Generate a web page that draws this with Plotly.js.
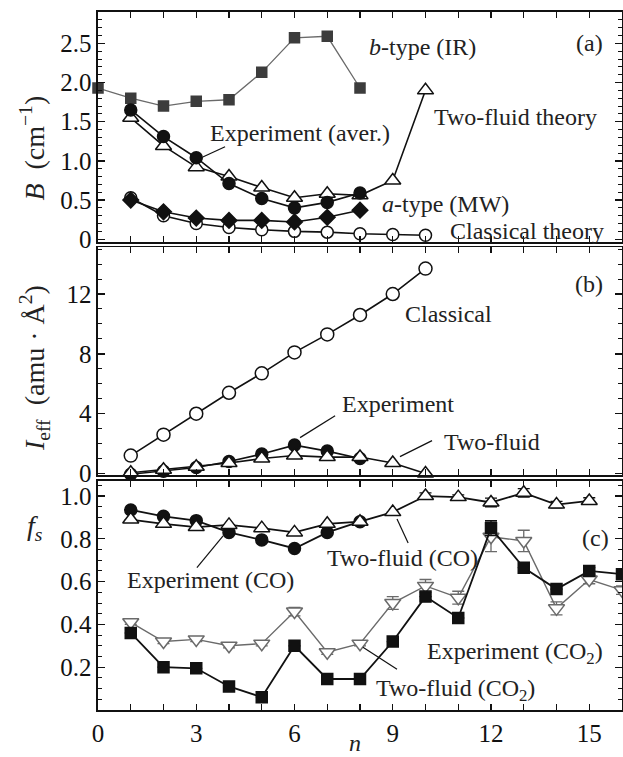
<!DOCTYPE html>
<html>
<head>
<meta charset="utf-8">
<script src="https://cdn.plot.ly/plotly-3.0.1.min.js"></script>
<style>html,body{margin:0;padding:0;background:#fff;}#chart{width:623px;height:757px;}</style>
</head>
<body>
<div id="chart"></div>
<script>
// ---------- Panel (a): rotational constant B (cm^-1) ----------
const nB_IR = [0,1,2,3,4,5,6,7,8];
const B_IR = [1.93,1.80,1.70,1.76,1.78,2.13,2.57,2.59,1.93];
const nB_exp = [1,2,3,4,5,6,7,8];
const B_exp = [1.65,1.31,1.04,0.71,0.52,0.40,0.47,0.59];
const nB_two = [1,2,3,4,5,6,7,8,9,10];
const B_two = [1.55,1.19,0.92,0.80,0.66,0.53,0.58,0.56,0.75,1.90];
const nB_MW = [1,2,3,4,5,6,7,8];
const B_MW = [0.50,0.35,0.27,0.24,0.24,0.22,0.28,0.37];
const nB_cl = [1,2,3,4,5,6,7,8,9,10];
const B_cl = [0.53,0.30,0.20,0.15,0.12,0.10,0.09,0.07,0.06,0.05];

// ---------- Panel (b): effective moment of inertia ----------
const nI_cl = [1,2,3,4,5,6,7,8,9,10];
const I_cl = [1.2,2.6,4.0,5.4,6.7,8.1,9.3,10.6,12.0,13.7];
const nI_exp = [1,2,3,4,5,6,7,8];
const I_exp = [-0.05,0.15,0.4,0.8,1.3,1.9,1.5,1.0];
const nI_two = [1,2,3,4,5,6,7,8,9,10];
const I_two = [0.05,0.25,0.45,0.7,1.0,1.2,1.1,1.1,0.7,0.0];

// ---------- Panel (c): superfluid fraction f_s ----------
const nF_expCO = [1,2,3,4,5,6,7,8];
const F_expCO = [0.935,0.905,0.885,0.83,0.795,0.755,0.83,0.88];
const nF_twoCO = [1,2,3,4,5,6,7,8,9,10,11,12,13,14,15];
const F_twoCO = [0.89,0.87,0.855,0.865,0.85,0.83,0.87,0.88,0.925,1.0,0.995,0.97,1.015,0.96,0.977];
const F_twoCO_err = [0,0,0,0,0,0,0,0,0,0.015,0.01,0.02,0.02,0.015,0.015];
const nF_CO2 = [1,2,3,4,5,6,7,8,9,10,11,12,13,14,15,16];
const F_expCO2 = [0.41,0.32,0.33,0.30,0.31,0.46,0.27,0.31,0.50,0.58,0.525,0.81,0.79,0.475,0.61,0.56];
const F_expCO2_err = [0.01,0.01,0.01,0.01,0.01,0.02,0.01,0.01,0.03,0.03,0.03,0.07,0.05,0.03,0.02,0.02];
const F_twoCO2 = [0.36,0.20,0.195,0.11,0.06,0.30,0.145,0.145,0.32,0.53,0.43,0.85,0.665,0.565,0.65,0.635];
const F_twoCO2_err = [0,0,0,0,0,0,0,0,0,0,0,0.035,0,0,0.015,0.01];

// ---------- tick labels ----------
const xTickVals = [0,3,6,9,12,15];
const xTickText = ['0','3','6','9','12','15'];
const aTickVals = [0,0.5,1.0,1.5,2.0,2.5];
const aTickText = ['0','0.5','1.0','1.5','2.0','2.5'];
const bTickVals = [0,4,8,12];
const bTickText = ['0','4','8','12'];
const cTickVals = [0.2,0.4,0.6,0.8,1.0];
const cTickText = ['0.2','0.4','0.6','0.8','1.0'];

const FONT = 'Liberation Serif';
const BLK = '#111';
const GRAY = '#6a6a6a';

function tr(x, y, xa, ya, sym, size, fill, lineCol, lineW, mLineCol, err) {
  const t = {
    x: x, y: y, xaxis: xa, yaxis: ya, type: 'scatter', mode: 'lines+markers',
    line: {color: lineCol, width: lineW},
    marker: {symbol: sym, size: size, color: fill, line: {color: mLineCol, width: 1.5}},
    cliponaxis: false, showlegend: false, hoverinfo: 'skip'
  };
  if (err) t.error_y = {type: 'data', array: err, visible: true, color: mLineCol, thickness: 1.3, width: 6};
  return t;
}

const data = [
  // panel a
  tr(nB_IR, B_IR, 'x3', 'y3', 'square', 10, '#3c3c3c', GRAY, 1.3, '#3c3c3c'),
  tr(nB_cl, B_cl, 'x3', 'y3', 'circle', 12, '#fff', BLK, 1.6, BLK),
  tr(nB_MW, B_MW, 'x3', 'y3', 'diamond', 12, BLK, BLK, 1.6, BLK),
  tr(nB_two, B_two, 'x3', 'y3', 'triangle-up', 14, '#fff', BLK, 1.6, BLK),
  tr(nB_exp, B_exp, 'x3', 'y3', 'circle', 12, BLK, BLK, 1.6, BLK),
  // panel b
  tr(nI_cl, I_cl, 'x2', 'y2', 'circle', 13, '#fff', BLK, 1.6, BLK),
  tr(nI_exp, I_exp, 'x2', 'y2', 'circle', 12, BLK, BLK, 1.6, BLK),
  tr(nI_two, I_two, 'x2', 'y2', 'triangle-up', 14, '#fff', BLK, 1.6, BLK),
  // panel c
  tr(nF_CO2, F_expCO2, 'x', 'y', 'triangle-down', 14, '#fff', GRAY, 1.4, GRAY, F_expCO2_err),
  tr(nF_CO2, F_twoCO2, 'x', 'y', 'square', 11, BLK, BLK, 1.8, BLK, F_twoCO2_err),
  tr(nF_expCO, F_expCO, 'x', 'y', 'circle', 12, BLK, BLK, 1.8, BLK),
  tr(nF_twoCO, F_twoCO, 'x', 'y', 'triangle-up', 14, '#fff', BLK, 1.8, BLK, F_twoCO_err)
];

function xax(anchor, labels) {
  return {
    domain: [0, 1], anchor: anchor, range: [0, 16], matches: anchor === 'y' ? undefined : 'x',
    tickmode: 'array', tickvals: xTickVals, ticktext: xTickText, showticklabels: labels,
    ticks: 'inside', ticklen: 6, tickwidth: 1.3, tickcolor: BLK,
    minor: {dtick: 1, tick0: 0, ticks: 'inside', ticklen: 6, tickwidth: 1.3, tickcolor: BLK, showgrid: false},
    showline: true, linewidth: 1.6, linecolor: BLK, mirror: 'ticks',
    showgrid: false, zeroline: false,
    tickfont: {family: FONT, size: 25, color: BLK}
  };
}
function yax(anchor, domain, range, vals, text, minorD) {
  return {
    domain: domain, anchor: anchor, range: range,
    tickmode: 'array', tickvals: vals, ticktext: text,
    ticks: 'inside', ticklen: 7, tickwidth: 1.3, tickcolor: BLK,
    minor: {dtick: minorD, tick0: 0, ticks: 'inside', ticklen: 4, tickwidth: 1, tickcolor: BLK, showgrid: false},
    showline: true, linewidth: 1.6, linecolor: BLK, mirror: 'ticks',
    showgrid: false, zeroline: false,
    tickfont: {family: FONT, size: 25, color: BLK}
  };
}

const TF = {family: FONT, size: 24, color: '#222'};
function ann(text, x, y, xr, yr, extra) {
  return Object.assign({text: text, x: x, y: y, xref: xr, yref: yr, showarrow: false,
    xanchor: 'center', yanchor: 'middle', font: TF}, extra || {});
}
function lineShape(x0, y0, x1, y1, xr, yr) {
  return {type: 'line', x0: x0, y0: y0, x1: x1, y1: y1, xref: xr, yref: yr, line: {color: BLK, width: 1.2}};
}

const annotations = [
  ann('<i>b</i>-type (IR)', 9.9, 2.45, 'x3', 'y3'),
  ann('(a)', 15.0, 2.50, 'x3', 'y3'),
  ann('Two-fluid theory', 12.76, 1.56, 'x3', 'y3'),
  ann('Experiment (aver.)', 6.17, 1.35, 'x3', 'y3'),
  ann('<i>a</i>-type (MW)', 10.6, 0.45, 'x3', 'y3'),
  ann('Classical theory', 13.1, 0.10, 'x3', 'y3'),
  ann('(b)', 15.0, 12.67, 'x2', 'y2'),
  ann('Classical', 10.7, 10.67, 'x2', 'y2'),
  ann('Experiment', 9.16, 4.67, 'x2', 'y2'),
  ann('Two-fluid', 12.03, 2.13, 'x2', 'y2'),
  ann('(c)', 15.2, 0.805, 'x', 'y'),
  ann('Two-fluid (CO)', 9.31, 0.712, 'x', 'y'),
  ann('Experiment (CO)', 3.42, 0.609, 'x', 'y'),
  ann('Experiment (CO<sub>2</sub>)', 12.73, 0.265, 'x', 'y'),
  ann('Two-fluid (CO<sub>2</sub>)', 10.93, 0.093, 'x', 'y'),
  // axis titles
  ann('<i>B</i>  (cm<sup>−1</sup>)', -0.125, 0.805, 'paper', 'paper', {textangle: -90, font: {family: FONT, size: 28, color: '#222'}}),
  ann('<i>I</i><sub>eff</sub>  (amu · Å<sup>2</sup>)', -0.12, 0.49, 'paper', 'paper', {textangle: -90, font: {family: FONT, size: 28, color: '#222'}}),
  ann('<i>f<sub>s</sub></i>', -0.12, 0.262, 'paper', 'paper', {font: {family: FONT, size: 28, color: '#222'}}),
  ann('<i>n</i>', 0.49, -0.047, 'paper', 'paper', {font: {family: FONT, size: 24, color: '#222'}})
];

const shapes = [
  lineShape(3.2, 1.05, 3.88, 1.18, 'x3', 'y3'),
  lineShape(6.17, 2.4, 7.24, 3.87, 'x2', 'y2'),
  lineShape(9.22, 1.13, 10.2, 2.2, 'x2', 'y2'),
  lineShape(9.13, 0.893, 9.47, 0.781, 'x', 'y'),
  lineShape(3.02, 0.665, 3.82, 0.814, 'x', 'y'),
  lineShape(8.09, 0.293, 9.13, 0.19, 'x', 'y')
];

const layout = {
  width: 623, height: 757,
  margin: {l: 98, r: 1, t: 12, b: 47},
  paper_bgcolor: '#fff', plot_bgcolor: 'rgba(0,0,0,0)',
  showlegend: false,
  xaxis: xax('y', true),
  xaxis2: xax('y2', false),
  xaxis3: xax('y3', false),
  yaxis: yax('x', [0, 0.328], [0, 1.07], cTickVals, cTickText, 0.05),
  yaxis2: yax('x2', [0.336, 0.663], [-0.13, 15.13], bTickVals, bTickText, 1),
  yaxis3: yax('x3', [0.670, 1], [-0.04, 2.9], aTickVals, aTickText, 0.1),
  annotations: annotations,
  shapes: shapes
};

Plotly.newPlot('chart', data, layout, {displayModeBar: false, staticPlot: true});
</script>
</body>
</html>
